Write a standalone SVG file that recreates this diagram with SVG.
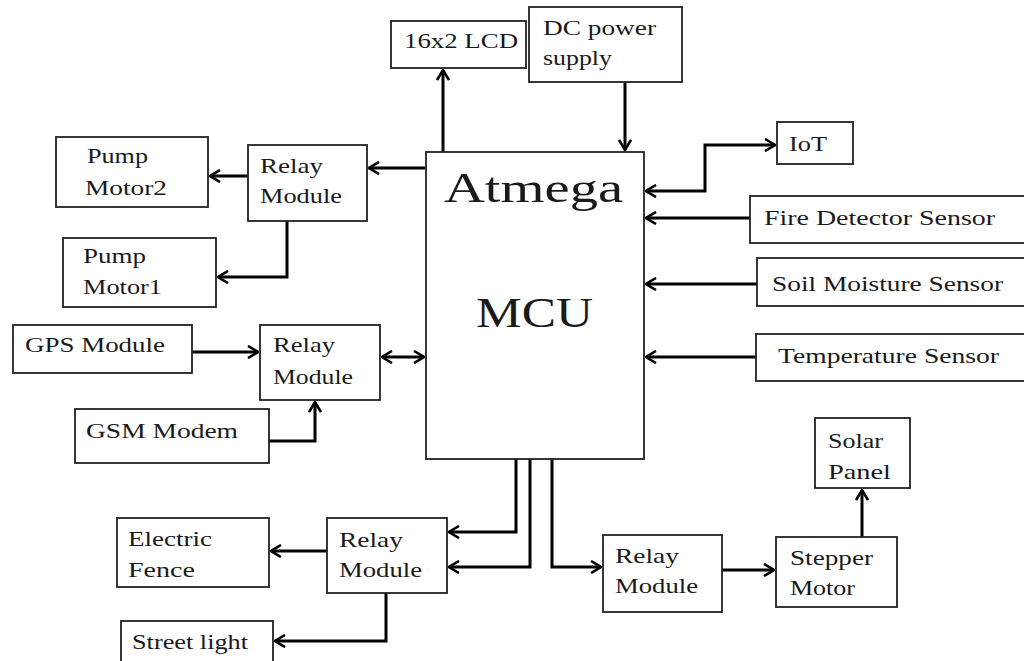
<svg xmlns="http://www.w3.org/2000/svg" width="1024" height="661" viewBox="0 0 1024 661">
<style>
.box{fill:#fff;stroke:#222;stroke-width:1.8}
.c{fill:none;stroke:#000;stroke-width:3;stroke-linejoin:miter}
</style>
<defs>
<marker id="a" viewBox="0 0 12 14" refX="11" refY="7" markerWidth="12" markerHeight="14" markerUnits="userSpaceOnUse" orient="auto-start-reverse">
<path d="M1,1 L11,7 L1,13" fill="none" stroke="#000" stroke-width="2.6"/>
</marker>
</defs>
<rect width="1024" height="661" fill="#fff"/>
<g id="connectors">
<path class="c" d="M443,152 V70" marker-end="url(#a)"/>
<path class="c" d="M625,82 V150" marker-end="url(#a)"/>
<path class="c" d="M426,168 H369" marker-end="url(#a)"/>
<path class="c" d="M248,176 H210" marker-end="url(#a)"/>
<path class="c" d="M287,221 V277 H218" marker-end="url(#a)"/>
<path class="c" d="M192,352 H258" marker-end="url(#a)"/>
<path class="c" d="M382,357 H424" marker-start="url(#a)" marker-end="url(#a)"/>
<path class="c" d="M269,441 H315 V402" marker-end="url(#a)"/>
<path class="c" d="M516,459 V532 H449" marker-end="url(#a)"/>
<path class="c" d="M530,459 V567 H449" marker-end="url(#a)"/>
<path class="c" d="M552,459 V567 H601" marker-end="url(#a)"/>
<path class="c" d="M327,551 H271" marker-end="url(#a)"/>
<path class="c" d="M386,593 V641 H275" marker-end="url(#a)"/>
<path class="c" d="M722,570 H774" marker-end="url(#a)"/>
<path class="c" d="M862,537 V490" marker-end="url(#a)"/>
<path class="c" d="M646,191 H705 V145 H775" marker-start="url(#a)" marker-end="url(#a)"/>
<path class="c" d="M750,218 H646" marker-end="url(#a)"/>
<path class="c" d="M757,284 H646" marker-end="url(#a)"/>
<path class="c" d="M756,357 H646" marker-end="url(#a)"/>
</g>
<g font-family="Liberation Serif, Times New Roman, Tinos, DejaVu Serif, serif" font-size="22" fill="#1a1a1a">
<g id="mcu">
<rect class="box" x="426" y="152" width="218" height="307"/>
<text x="444" y="202" font-size="42" textLength="179" lengthAdjust="spacingAndGlyphs">Atmega</text>
<text x="476" y="327" font-size="42" textLength="117" lengthAdjust="spacingAndGlyphs">MCU</text>
</g>
<g id="lcd">
<rect class="box" x="391" y="21" width="135" height="47"/>
<text x="404" y="48" textLength="114" lengthAdjust="spacingAndGlyphs">16x2 LCD</text>
</g>
<g id="dc">
<rect class="box" x="529" y="7" width="153" height="75"/>
<text x="543" y="35" textLength="113" lengthAdjust="spacingAndGlyphs">DC power</text>
<text x="543" y="65" textLength="69" lengthAdjust="spacingAndGlyphs">supply</text>
</g>
<g id="pump2">
<rect class="box" x="56" y="137" width="152" height="70"/>
<text x="87" y="163" textLength="61" lengthAdjust="spacingAndGlyphs">Pump</text>
<text x="85" y="195" textLength="82" lengthAdjust="spacingAndGlyphs">Motor2</text>
</g>
<g id="relay1">
<rect class="box" x="248" y="145" width="119" height="76"/>
<text x="260" y="173" textLength="63" lengthAdjust="spacingAndGlyphs">Relay</text>
<text x="260" y="203" textLength="82" lengthAdjust="spacingAndGlyphs">Module</text>
</g>
<g id="pump1">
<rect class="box" x="63" y="238" width="153" height="69"/>
<text x="83" y="263" textLength="63" lengthAdjust="spacingAndGlyphs">Pump</text>
<text x="83" y="294" textLength="79" lengthAdjust="spacingAndGlyphs">Motor1</text>
</g>
<g id="gps">
<rect class="box" x="13" y="325" width="179" height="48"/>
<text x="25" y="352" textLength="140" lengthAdjust="spacingAndGlyphs">GPS Module</text>
</g>
<g id="relay2">
<rect class="box" x="260" y="325" width="120" height="75"/>
<text x="273" y="352" textLength="62" lengthAdjust="spacingAndGlyphs">Relay</text>
<text x="273" y="384" textLength="80" lengthAdjust="spacingAndGlyphs">Module</text>
</g>
<g id="gsm">
<rect class="box" x="75" y="409" width="194" height="54"/>
<text x="86" y="438" textLength="152" lengthAdjust="spacingAndGlyphs">GSM Modem</text>
</g>
<g id="fence">
<rect class="box" x="117" y="518" width="152" height="69"/>
<text x="128" y="546" textLength="84" lengthAdjust="spacingAndGlyphs">Electric</text>
<text x="128" y="577" textLength="67" lengthAdjust="spacingAndGlyphs">Fence</text>
</g>
<g id="relay3">
<rect class="box" x="327" y="518" width="120" height="75"/>
<text x="339" y="547" textLength="64" lengthAdjust="spacingAndGlyphs">Relay</text>
<text x="339" y="577" textLength="83" lengthAdjust="spacingAndGlyphs">Module</text>
</g>
<g id="street">
<rect class="box" x="121" y="621" width="152" height="50"/>
<text x="132" y="649" textLength="116" lengthAdjust="spacingAndGlyphs">Street light</text>
</g>
<g id="relay4">
<rect class="box" x="603" y="535" width="119" height="77"/>
<text x="615" y="563" textLength="64" lengthAdjust="spacingAndGlyphs">Relay</text>
<text x="615" y="593" textLength="83" lengthAdjust="spacingAndGlyphs">Module</text>
</g>
<g id="stepper">
<rect class="box" x="776" y="537" width="121" height="70"/>
<text x="790" y="565" textLength="83" lengthAdjust="spacingAndGlyphs">Stepper</text>
<text x="790" y="595" textLength="65" lengthAdjust="spacingAndGlyphs">Motor</text>
</g>
<g id="solar">
<rect class="box" x="815" y="418" width="95" height="70"/>
<text x="828" y="448" textLength="55" lengthAdjust="spacingAndGlyphs">Solar</text>
<text x="828" y="479" textLength="63" lengthAdjust="spacingAndGlyphs">Panel</text>
</g>
<g id="iot">
<rect class="box" x="777" y="122" width="76" height="42"/>
<text x="789" y="151" textLength="38" lengthAdjust="spacingAndGlyphs">IoT</text>
</g>
<g id="fire">
<rect class="box" x="750" y="196" width="280" height="47"/>
<text x="764" y="225" textLength="231" lengthAdjust="spacingAndGlyphs">Fire Detector Sensor</text>
</g>
<g id="soil">
<rect class="box" x="757" y="258" width="280" height="48"/>
<text x="772" y="291" textLength="231" lengthAdjust="spacingAndGlyphs">Soil Moisture Sensor</text>
</g>
<g id="temp">
<rect class="box" x="756" y="334" width="280" height="47"/>
<text x="778" y="363" textLength="221" lengthAdjust="spacingAndGlyphs">Temperature Sensor</text>
</g>
</g>
</svg>
